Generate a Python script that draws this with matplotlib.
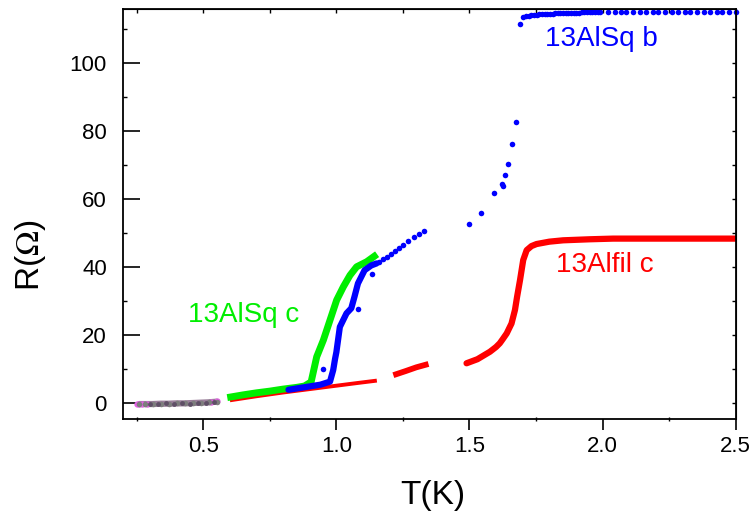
import matplotlib
matplotlib.use('Agg')
import matplotlib.pyplot as plt

plt.rcParams['font.family'] = ['Liberation Sans', 'DejaVu Sans']
plt.rcParams['mathtext.fontset'] = 'stix'

# low temperature background points (mixed colours)
low_mag_T = [0.25, 0.26, 0.27, 0.29, 0.53, 0.55]
low_mag_R = [-0.3, -0.4, -0.2, -0.3, 0.3, 0.5]
low_gray_T = [0.26, 0.28, 0.31, 0.34, 0.37, 0.40, 0.43, 0.46, 0.49, 0.52, 0.55]
low_gray_R = [-0.3, -0.3, -0.3, -0.2, -0.2, -0.1, -0.1, 0.0, 0.1, 0.2, 0.4]
low_dark_T = [0.30, 0.33, 0.36, 0.39, 0.42, 0.45, 0.48, 0.51, 0.54]
low_dark_R = [-0.2, -0.4, -0.1, -0.3, 0.0, -0.2, 0.1, 0.0, 0.3]

# 13Alfil c (red), three measured segments
red1_T = [0.60, 0.70, 0.80, 0.90, 1.00, 1.08, 1.152]
red1_R = [0.8, 2.0, 3.1, 4.1, 5.1, 5.9, 6.6]
red2_T = [1.214, 1.26, 1.30, 1.346]
red2_R = [8.2, 9.4, 10.5, 11.5]
red3_T = [1.489, 1.53, 1.577, 1.60, 1.614, 1.625, 1.640, 1.648, 1.658, 1.671, 1.679,
          1.690, 1.702, 1.715, 1.733, 1.752, 1.80, 1.852, 1.95, 2.04, 2.2, 2.35, 2.5]
red3_R = [11.7, 12.9, 15.1, 16.5, 17.6, 18.8, 20.5, 21.8, 23.4, 27.4, 31.3,
          36.2, 42.1, 45.0, 46.2, 46.8, 47.5, 47.9, 48.2, 48.4, 48.4, 48.4, 48.4]

# 13AlSq c (green)
green_T = [0.59, 0.65, 0.70, 0.75, 0.80, 0.85, 0.88, 0.905, 0.926, 0.951,
           0.976, 1.001, 1.026, 1.051, 1.076, 1.114, 1.153]
green_R = [1.6, 2.4, 3.0, 3.5, 4.1, 4.6, 5.0, 6.2, 13.6, 18.5,
           24.4, 30.3, 34.2, 37.6, 40.1, 41.6, 43.8]

# 13AlSq b (blue)
blue_T = [0.82, 0.86, 0.90, 0.94, 0.976, 0.988, 0.995, 1.0, 1.013, 1.038,
          1.056, 1.068, 1.081, 1.106, 1.131, 1.151]
blue_R = [3.9, 4.4, 4.9, 5.4, 6.3, 9.7, 13.0, 15.0, 22.4, 26.4,
          27.9, 31.3, 35.2, 39.1, 40.5, 41.1]
blue_out_T = [0.951, 1.081, 1.132]
blue_out_R = [9.9, 27.6, 38.1]
blue_dots_T = [1.16, 1.175, 1.19, 1.205, 1.22, 1.235, 1.25, 1.27, 1.29, 1.31, 1.33,
               1.499, 1.542, 1.592, 1.621, 1.627, 1.634, 1.646, 1.661, 1.675, 1.690]
blue_dots_R = [41.5, 42.3, 43.1, 43.9, 44.8, 45.6, 46.5, 47.6, 48.9, 49.8, 50.6,
               52.6, 55.8, 61.9, 64.4, 63.9, 67.1, 70.5, 76.2, 82.7, 111.7]
blue_top_T = [1.702, 1.712, 1.722, 1.732, 1.742, 1.752, 1.762, 1.772, 1.782, 1.792,
              1.802, 1.812, 1.822, 1.832, 1.842, 1.852, 1.862, 1.872, 1.882, 1.892,
              1.902, 1.912, 1.922, 1.932, 1.942, 1.952, 1.962, 1.972, 1.982, 1.992,
              2.02, 2.045, 2.07, 2.09, 2.115, 2.14, 2.165, 2.19, 2.21, 2.235,
              2.26, 2.285, 2.31, 2.33, 2.355, 2.38, 2.405, 2.43, 2.45, 2.475, 2.5]
blue_top_R = [113.6, 113.8, 114.0, 114.1, 114.2, 114.3, 114.4, 114.4, 114.5, 114.5,
              114.6, 114.6, 114.7, 114.7, 114.7, 114.8, 114.8, 114.8, 114.9, 114.9,
              114.9, 114.9, 115.0, 115.0, 115.0, 115.0, 115.0, 115.1, 115.1, 115.1,
              115.1, 115.1, 115.1, 115.2, 115.2, 115.2, 115.2, 115.2, 115.2, 115.2,
              115.2, 115.2, 115.2, 115.2, 115.2, 115.2, 115.2, 115.2, 115.2, 115.2, 115.2]

RED = '#ff0000'
GREEN = '#00ee00'
BLUE = '#0000ff'

fig = plt.figure(figsize=(7.52, 5.19), dpi=100)
ax = fig.add_axes([0.1642, 0.1927, 0.814, 0.79])

# low-T points
ax.plot(low_gray_T, low_gray_R, '-', color='#9a7f9a', lw=4.5, solid_capstyle='round')
ax.plot(low_mag_T, low_mag_R, 'o', color='#e060e0', ms=4.5, mew=0)
ax.plot(low_gray_T, low_gray_R, 'o', color='#7d7d7d', ms=4, mew=0)
ax.plot(low_dark_T, low_dark_R, 'o', color='#5f4f66', ms=3.5, mew=0)

# red
ax.plot(red1_T, red1_R, '-', color=RED, lw=2.8, solid_capstyle='butt')
ax.plot(red2_T, red2_R, '-', color=RED, lw=4.2, solid_capstyle='butt')
ax.plot(red3_T, red3_R, '-', color=RED, lw=4.5, solid_capstyle='round')

# green
ax.plot(green_T, green_R, '-', color=GREEN, lw=5, solid_capstyle='butt')

# blue
ax.plot(blue_T, blue_R, '-', color=BLUE, lw=4.5, solid_capstyle='round')
ax.plot(blue_out_T, blue_out_R, 'o', color=BLUE, ms=4, mew=0)
ax.plot(blue_dots_T, blue_dots_R, 'o', color=BLUE, ms=4, mew=0)
ax.plot(blue_top_T, blue_top_R, 'o', color=BLUE, ms=4, mew=0, clip_on=False)

ax.text(1.783, 105, '13AlSq b', color=BLUE, fontsize=20)
ax.text(1.827, 38.6, '13Alfil c', color=RED, fontsize=20)
ax.text(0.443, 23.9, '13AlSq c', color=GREEN, fontsize=20)

ax.set_xlim(0.2, 2.5)
ax.set_ylim(-4.7, 116)
ax.set_xticks([0.5, 1.0, 1.5, 2.0, 2.5])
ax.set_xticks([0.25, 0.75, 1.25, 1.75, 2.25], minor=True)
ax.set_yticks([0, 20, 40, 60, 80, 100])
ax.set_yticks([10, 30, 50, 70, 90, 110], minor=True)
ax.tick_params(axis='x', which='major', direction='out', length=8, width=1.2, labelsize=16, pad=4)
ax.tick_params(axis='x', which='minor', direction='inout', length=3, width=1)
ax.tick_params(axis='y', which='major', direction='in', length=12, width=1.2, labelsize=16, pad=12)
ax.tick_params(axis='y', which='minor', direction='in', length=3, width=1)
for s in ax.spines.values():
    s.set_linewidth(1.3)

top = ax.secondary_xaxis('top')
top.set_xticks([0.25, 0.5, 0.75, 1.0, 1.25, 1.5, 1.75, 2.0, 2.25, 2.5])
top.tick_params(direction='in', length=3, width=1, labeltop=False)
right = ax.secondary_yaxis('right')
right.set_yticks([0, 10, 20, 30, 40, 50, 60, 70, 80, 90, 100, 110])
right.tick_params(direction='in', length=3, width=1, labelright=False)

ax.set_xlabel('T(K)', fontsize=24)
ax.set_ylabel(r'R($\Omega$)', fontsize=24)
ax.xaxis.set_label_coords(0.506, -0.148)
ax.yaxis.set_label_coords(-0.1225, 0.40)

fig.savefig('out.png', dpi=100)
